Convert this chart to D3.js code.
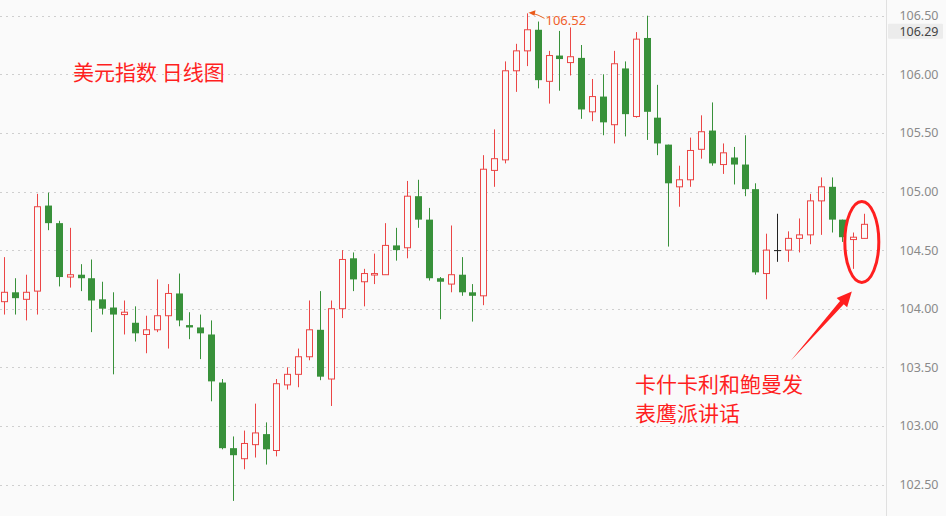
<!DOCTYPE html>
<html><head><meta charset="utf-8">
<script src="https://cdn.jsdelivr.net/npm/d3@7"></script>
<style>
html,body{margin:0;padding:0;background:#fafafa;}
svg{display:block;}
</style></head>
<body>
<svg id="chart" width="946" height="516"></svg>
<script>
// ---- data (daily candles, USD index) ----
const days = d3.range(1, 81).map(d => "D" + d);
const openVals  = [104.06,104.14,104.08,104.15,104.88,104.73,104.27,104.29,104.26,104.08,
                   104.01,103.95,103.88,103.78,103.82,103.94,104.13,103.86,103.84,103.78,
                   103.37,102.81,102.72,102.84,102.93,102.79,103.35,103.44,103.59,103.82,
                   103.40,104.00,104.43,104.23,104.29,104.29,104.54,104.52,104.96,104.76,
                   104.26,104.21,104.29,104.14,104.11,105.18,105.27,106.03,106.20,106.38,
                   105.94,106.16,106.10,106.14,105.68,105.81,105.57,106.05,105.64,106.31,
                   105.63,105.40,105.04,105.10,105.36,105.52,105.23,105.29,105.23,105.02,
                   104.30,104.50,104.50,104.60,104.63,104.92,105.04,104.76,104.59,104.60];
const highVals  = [104.44,104.26,104.29,104.98,104.99,104.75,104.69,104.38,104.42,104.23,
                   104.14,104.07,104.02,103.94,104.25,104.21,104.30,103.97,103.95,103.90,
                   103.40,102.91,102.96,103.19,103.03,103.40,103.50,103.66,104.07,104.15,
                   104.07,104.50,104.48,104.34,104.47,104.73,104.69,105.09,105.10,104.86,
                   104.27,104.71,104.44,104.21,105.31,105.53,106.11,106.26,106.52,106.45,
                   106.20,106.37,106.40,106.25,105.96,106.00,106.20,106.11,106.36,106.50,
                   105.91,105.40,105.22,105.46,105.65,105.76,105.41,105.38,105.48,105.07,
                   104.64,104.81,104.66,104.77,104.98,105.12,105.12,104.76,104.65,104.81];
const lowVals   = [103.95,103.95,103.90,103.95,104.67,104.19,104.18,104.15,103.80,103.95,
                   103.44,103.78,103.72,103.62,103.80,103.66,103.85,103.74,103.57,103.21,
                   102.80,102.36,102.63,102.73,102.67,102.74,103.31,103.33,103.56,103.39,
                   103.17,103.92,104.15,104.02,104.21,104.29,104.41,104.43,104.69,104.24,
                   103.91,104.14,104.11,103.89,104.03,105.04,105.24,105.85,106.07,105.88,
                   105.75,105.86,105.99,105.62,105.60,105.48,105.41,105.47,105.63,105.44,
                   105.31,104.53,104.87,105.04,105.28,105.22,105.15,105.06,104.96,104.29,
                   104.08,104.40,104.40,104.48,104.55,104.63,104.65,104.57,104.34,104.60];
const closeVals = [104.14,104.09,104.14,104.87,104.73,104.27,104.29,104.26,104.07,104.00,
                   103.95,103.97,103.79,103.82,103.94,104.13,103.90,103.84,103.79,103.38,
                   102.81,102.75,102.85,102.94,102.80,103.36,103.44,103.59,103.82,103.42,
                   104.00,104.42,104.25,104.30,104.30,104.54,104.50,104.96,104.76,104.26,
                   104.23,104.29,104.14,104.11,105.19,105.28,106.03,106.20,106.38,105.95,
                   106.16,106.13,106.15,105.70,105.81,105.59,106.09,105.66,106.30,105.68,
                   105.41,105.07,105.10,105.35,105.51,105.24,105.33,105.23,105.02,104.31,
                   104.50,104.50,104.60,104.63,104.92,105.04,104.76,104.61,104.61,104.72];
const yTicks = [102.5, 103.0, 103.5, 104.0, 104.5, 105.0, 105.5, 106.0, 106.5];
const highLabel = 106.52;
const cursorPrice = 106.29;
const titleText = "美元指数 日线图";
const noteLines = ["卡什卡利和鲍曼发", "表鹰派讲话"];

const candles = days.map((d, i) => ({day: d, o: openVals[i], h: highVals[i], l: lowVals[i], c: closeVals[i]}));

// ---- layout ----
const W = 946, H = 516, axisX = 886.5;
const svg = d3.select("#chart");
const bg = "#fafafa";
const UP = "#eb4545", DOWN = "#38913a", FLAT = "#222222", RED = "#ff1f1f";

const x = d3.scaleBand().domain(days).range([-1.1, 869.7]).padding(0);
const y = d3.scaleLinear().domain([102.5, 106.5]).range([484.5, 15.7]);
const cx = d => x(d) + x.bandwidth() / 2;

svg.append("rect").attr("width", W).attr("height", H).attr("fill", bg);

// grid
svg.append("g").selectAll("line").data(yTicks).join("line")
  .attr("x1", 0).attr("x2", axisX).attr("y1", d => Math.round(y(d)) + 0.5).attr("y2", d => Math.round(y(d)) + 0.5)
  .attr("stroke", "#cfcfcf").attr("stroke-dasharray", "2,4").attr("stroke-width", 1);

// right axis
const axis = d3.axisRight(y).tickValues(yTicks).tickSize(0).tickPadding(0).tickFormat(d3.format(".2f"));
const gAxis = svg.append("g").attr("transform", `translate(${axisX},0)`).call(axis);
gAxis.select(".domain").attr("stroke", "#e0e0e0").attr("d", `M0,0V${H}`);
gAxis.selectAll("text").attr("x", 52).attr("text-anchor", "end")
  .attr("font-family", "'Noto Sans', 'Open Sans', sans-serif").attr("font-size", 12.5).attr("fill", "#8a8a8a");

// cursor price box
const gp = svg.append("g");
const py = y(cursorPrice) - 9;
gp.append("rect").attr("x", axisX + 1.5).attr("y", py - 7.5).attr("width", 55).attr("height", 15).attr("fill", "#ececec").attr("rx", 1);
gp.append("text").attr("x", axisX + 52).attr("y", py).attr("dy", "0.35em").attr("text-anchor", "end")
  .attr("font-family", "'Noto Sans', 'Open Sans', sans-serif").attr("font-size", 12.5).attr("fill", "#444")
  .text(cursorPrice.toFixed(2));

// candles
const colorOf = d => d.c > d.o ? UP : (d.c < d.o ? DOWN : FLAT);
const gc = svg.append("g");
const bw = 7;
const cg = gc.selectAll("g").data(candles).join("g");
cg.append("line")
  .attr("x1", d => Math.round(cx(d.day)) + 0.5).attr("x2", d => Math.round(cx(d.day)) + 0.5)
  .attr("y1", d => y(d.h)).attr("y2", d => y(d.l))
  .attr("stroke", colorOf).attr("stroke-width", 1);
cg.append("rect")
  .attr("x", d => d.c > d.o ? Math.round(cx(d.day)) - 2.5 : Math.round(cx(d.day)) - 3)
  .attr("width", d => d.c > d.o ? bw - 1 : bw)
  .attr("y", d => y(Math.max(d.o, d.c)))
  .attr("height", d => Math.max(d.c === d.o ? 1 : 1.5, Math.abs(y(d.o) - y(d.c))))
  .attr("fill", d => d.c > d.o ? bg : colorOf(d))
  .attr("stroke", d => d.c > d.o ? UP : "none")
  .attr("stroke-width", 1);

// high annotation
const hi = candles.reduce((a, b) => b.h > a.h ? b : a);
const hx = Math.round(cx(hi.day)) + 0.5, hy = y(hi.h);
const ann = svg.append("g");
ann.append("path").attr("d", `M${hx + 17},${hy + 5} Q${hx + 10},${hy + 1} ${hx + 5},${hy}`)
  .attr("fill", "none").attr("stroke", "#ea6a2a").attr("stroke-width", 1);
ann.append("path").attr("d", `M${hx + 1},${hy - 0.5} L${hx + 8},${hy - 3} L${hx + 7},${hy + 2.5} Z`)
  .attr("fill", "#ea5a1a");
ann.append("text").attr("x", hx + 18).attr("y", hy + 12)
  .attr("font-family", "'Noto Sans', 'Open Sans', sans-serif").attr("font-size", 13).attr("fill", "#f0602a")
  .text(highLabel.toFixed(2));

// title
svg.append("text").attr("x", 73).attr("y", 80)
  .attr("font-family", "'Noto Sans CJK SC', sans-serif").attr("font-size", 21).attr("fill", RED)
  .text(titleText);

// note
const note = svg.append("text").attr("font-family", "'Noto Sans CJK SC', sans-serif").attr("font-size", 21).attr("fill", RED);
noteLines.forEach((t, i) => note.append("tspan").attr("x", 635).attr("y", 392 + i * 28.5).text(t));

// ellipse around last two candles
const ex = (cx(days[78]) + cx(days[79])) / 2 + 3;
const ey = y(104.57);
svg.append("ellipse").attr("cx", ex).attr("cy", ey).attr("rx", 17).attr("ry", 40.5)
  .attr("fill", "none").attr("stroke", RED).attr("stroke-width", 3);

// arrow
const tail = [790.7, 360.7], tip = [ex - 10, ey + 49.5];
const dx = tip[0] - tail[0], dy = tip[1] - tail[1], L = Math.hypot(dx, dy);
const ux = dx / L, uy = dy / L, nx = -uy, ny = ux;
const headLen = 15, headW = 7, shaftW = 2.5;
const bx = tip[0] - ux * headLen, by = tip[1] - uy * headLen;
const pts = [
  [tail[0], tail[1]],
  [bx + nx * shaftW, by + ny * shaftW],
  [bx + nx * headW, by + ny * headW],
  [tip[0], tip[1]],
  [bx - nx * headW, by - ny * headW],
  [bx - nx * shaftW, by - ny * shaftW]
];
svg.append("path").attr("d", "M" + pts.map(p => p.join(",")).join("L") + "Z").attr("fill", RED);
</script>
</body></html>
